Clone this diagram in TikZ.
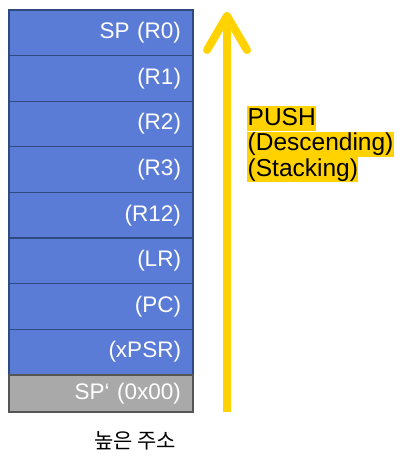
\documentclass[tikz,border=0pt]{standalone}
\usepackage{fontspec}
\setmainfont{Liberation Sans}
\newfontfamily\kofont{Noto Sans CJK KR}
\usetikzlibrary{positioning,arrows.meta}
\definecolor{regblue}{HTML}{5B7CD6}
\definecolor{regline}{HTML}{2F4A7E}
\definecolor{basegrey}{HTML}{A9A9A9}
\definecolor{baseline}{HTML}{555555}
\definecolor{pushyellow}{HTML}{FFD200}
\tikzset{
  reg/.style = {draw = regline, fill = regblue, line width = 1.2pt, text = white,
    minimum width = 184pt, minimum height = 45.6pt, text width = 160pt,
    align = right, inner xsep = 12pt, font = \fontsize{22.5}{24}\selectfont},
  base/.style = {reg, draw = baseline, fill = basegrey, minimum height = 37pt},
  hl/.style = {fill = pushyellow, inner xsep = 0.5pt, inner ysep = 0pt,
    text height = 19pt, text depth = 6pt, anchor = north west,
    font = \fontsize{24.5}{25}\selectfont},
}
\begin{document}
\begin{tikzpicture}[x = 1pt, y = -1pt]
\useasboundingbox (0, 0) rectangle (417, 468);
% register frames, top to bottom
\foreach \i/\lbl in {1/SP (R0), 2/(R1), 3/(R2), 4/(R3), 5/(R12), 6/(LR), 7/(PC), 8/(xPSR)}
  \node[reg] (r\i) at (101, {10 + 45.6*(\i - 0.5)}) {\lbl};
\node[base] (sp) at (101, 393.5) {SP\symbol{96} (0x00)};
\node[font = \kofont\fontsize{21}{23}\selectfont] (addr) at (135, 441) {높은 주소};
% push direction
\coordinate (bottom) at (227, 412);
\coordinate (top) at (227, 12);
\draw[pushyellow, line width = 8pt,
  -{Straight Barb[length = 34pt, width = 40pt, line cap = round, line join = round]}]
  (bottom) -- (top);
\node[hl] (push) at (247, 106) {PUSH};
\node[hl, below = 0pt of push.south west, anchor = north west] (desc) {(Descending)};
\node[hl, below = 0pt of desc.south west, anchor = north west] (stack) {(Stacking)};
\end{tikzpicture}
\end{document}
